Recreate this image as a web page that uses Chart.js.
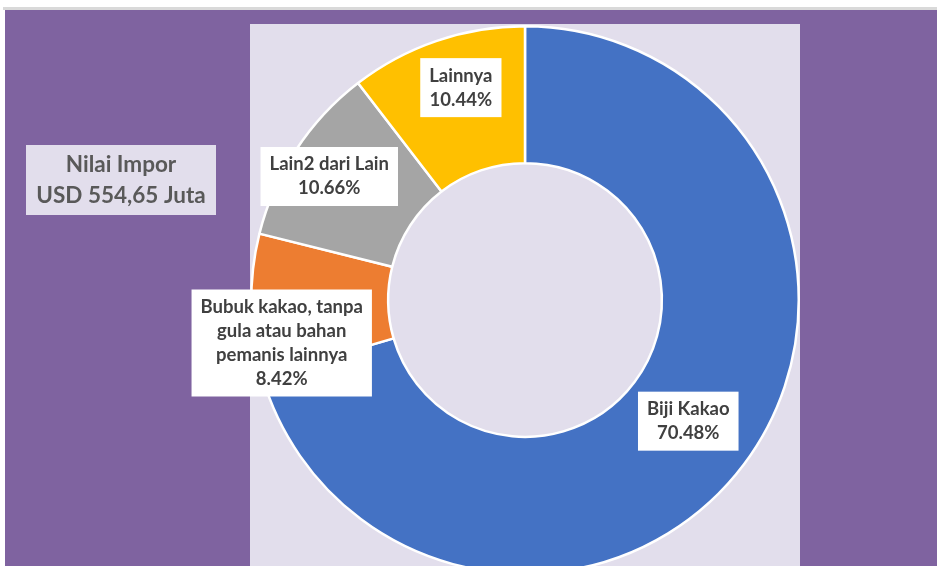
<!DOCTYPE html>
<html lang="id">
<head>
    <meta charset="UTF-8">
    <title>Nilai Impor Kakao</title>
    <style>
        html, body {
            margin: 0;
            padding: 0;
            background-color: #ffffff;
            overflow: hidden;
        }
        .chart-container {
            position: relative;
            width: 937px;
            height: 600px;
        }
    </style>
</head>
<body>
    <div class="chart-container">
        <canvas id="donutChart"></canvas>
    </div>
    <script src="https://cdn.jsdelivr.net/npm/chart.js"></script>
    <script>
        // Data
        const categories = [
            ['Biji Kakao'],
            ['Bubuk kakao, tanpa', 'gula atau bahan', 'pemanis lainnya'],
            ['Lain2 dari Lain'],
            ['Lainnya']
        ];
        const shares = [70.48, 8.42, 10.66, 10.44];
        const sliceColors = ['#4472C4', '#ED7D31', '#A5A5A5', '#FFC000'];
        const totalTitle = ['Nilai Impor', 'USD 554,65 Juta'];

        // label nudges from the slice centre
        const labelShift = [[-1, -2], [-38, 39], [-24, -11], [2, -18]];

        const FONT = '"Lato", "Open Sans", sans-serif';

        const backdrop = {
            id: 'backdrop',
            beforeDraw(chart) {
                const ctx = chart.ctx;
                const area = chart.chartArea;
                ctx.save();
                ctx.fillStyle = '#ffffff';
                ctx.fillRect(0, 0, chart.width, chart.height);
                ctx.fillStyle = '#D9D9D9';
                ctx.fillRect(3, 7, chart.width, 3);
                ctx.fillStyle = '#7F63A0';
                ctx.fillRect(5, 10, chart.width, chart.height);
                ctx.fillStyle = '#E2DEEC';
                ctx.fillRect(area.left, area.top - 1, area.width, chart.height);

                // total box
                ctx.fillStyle = '#E2DEEC';
                ctx.fillRect(26, 145, 190, 70);
                ctx.fillStyle = '#595959';
                ctx.font = 'bold 22.5px ' + FONT;
                ctx.textAlign = 'center';
                ctx.textBaseline = 'middle';
                ctx.fillText(totalTitle[0], 121, 165);
                ctx.fillText(totalTitle[1], 121, 196);
                ctx.restore();
            }
        };

        const sliceLabels = {
            id: 'sliceLabels',
            afterDatasetsDraw(chart) {
                const ctx = chart.ctx;
                const meta = chart.getDatasetMeta(0);
                ctx.save();
                ctx.font = 'bold 18.5px ' + FONT;
                ctx.textAlign = 'center';
                ctx.textBaseline = 'middle';
                const lineH = 24;
                meta.data.forEach((arc, i) => {
                    const pos = arc.tooltipPosition();
                    const lines = categories[i].concat([shares[i].toFixed(2) + '%']);
                    const cx = pos.x + labelShift[i][0];
                    const cy = pos.y + labelShift[i][1];
                    let w = 0;
                    lines.forEach(l => { w = Math.max(w, ctx.measureText(l).width); });
                    const bw = w + 18;
                    const bh = lines.length * lineH + 11;
                    ctx.fillStyle = '#ffffff';
                    ctx.fillRect(cx - bw / 2, cy - bh / 2, bw, bh);
                    ctx.fillStyle = '#404040';
                    lines.forEach((l, k) => {
                        ctx.fillText(l, cx, cy - (lines.length - 1) * lineH / 2 + k * lineH);
                    });
                });
                ctx.restore();
            }
        };

        const donutCtx = document.getElementById('donutChart').getContext('2d');
        new Chart(donutCtx, {
            type: 'doughnut',
            data: {
                labels: categories,
                datasets: [{
                    data: shares,
                    backgroundColor: sliceColors,
                    borderColor: '#ffffff',
                    borderWidth: 2.5
                }]
            },
            options: {
                responsive: true,
                maintainAspectRatio: false,
                animation: false,
                cutout: '50%',
                layout: {
                    padding: { left: 250, right: 137, top: 25, bottom: 25 }
                },
                plugins: {
                    legend: { display: false },
                    tooltip: { enabled: false }
                }
            },
            plugins: [backdrop, sliceLabels]
        });
    </script>
</body>
</html>
